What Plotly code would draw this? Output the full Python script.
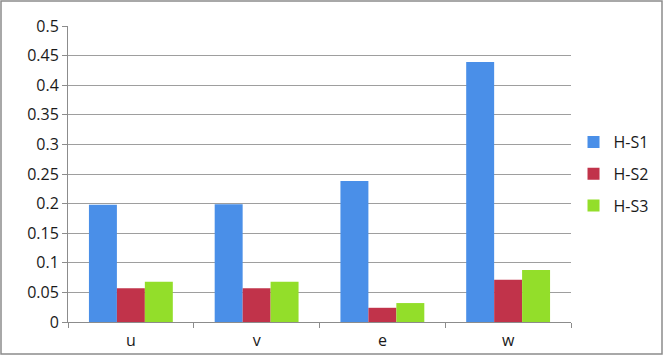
import plotly.graph_objects as go

categories = ['u', 'v', 'e', 'w']
hs1 = [0.198, 0.199, 0.238, 0.439]
hs2 = [0.057, 0.057, 0.024, 0.0715]
hs3 = [0.068, 0.068, 0.032, 0.088]

series = [('H-S1', hs1, '#4a8fe8'), ('H-S2', hs2, '#c1334a'), ('H-S3', hs3, '#93de2a')]

fig = go.Figure()
for i, (name, vals, col) in enumerate(series):
    fig.add_trace(go.Bar(x=categories, y=vals, name=name, marker_color=col,
                         marker_line_width=0, legendgroup=str(i)))

# plot area in pixels: x 68..571, y 26..322
pw, ph = 503, 296
fig.add_shape(type='rect', xref='paper', yref='paper',
              x0=(1 - 68) / pw, x1=(662 - 68) / pw,
              y0=(322 - 354) / ph, y1=(322 - 1) / ph,
              line=dict(color='#8c8c8c', width=1.5), layer='below')

fig.update_layout(
    width=664, height=356,
    margin=dict(l=68, r=93, t=26, b=34, autoexpand=False),
    paper_bgcolor='white', plot_bgcolor='white',
    barmode='group', bargap=0.333, bargroupgap=0,
    font=dict(family='Open Sans, Liberation Sans, sans-serif', size=16, color='#1a1a1a'),
    showlegend=True,
    legend=dict(x=1.005, y=0.5, xanchor='left', yanchor='middle',
                tracegroupgap=8, font=dict(size=16),
                itemwidth=30),
    xaxis=dict(showline=True, linecolor='#8c8c8c', linewidth=1,
               ticks='outside', tickson='boundaries', ticklen=5,
               tickcolor='#8c8c8c', showgrid=False, ticklabelstandoff=4),
    yaxis=dict(range=[0, 0.5], dtick=0.05, showline=True, linecolor='#8c8c8c',
               linewidth=1, ticks='outside', ticklen=5, tickcolor='#8c8c8c',
               gridcolor='#9e9e9e', gridwidth=1, zeroline=False,
               tickformat='~g'),
)

fig.write_html('out.html', config={'displayModeBar': False},
               post_script="document.body.style.margin='0';")
